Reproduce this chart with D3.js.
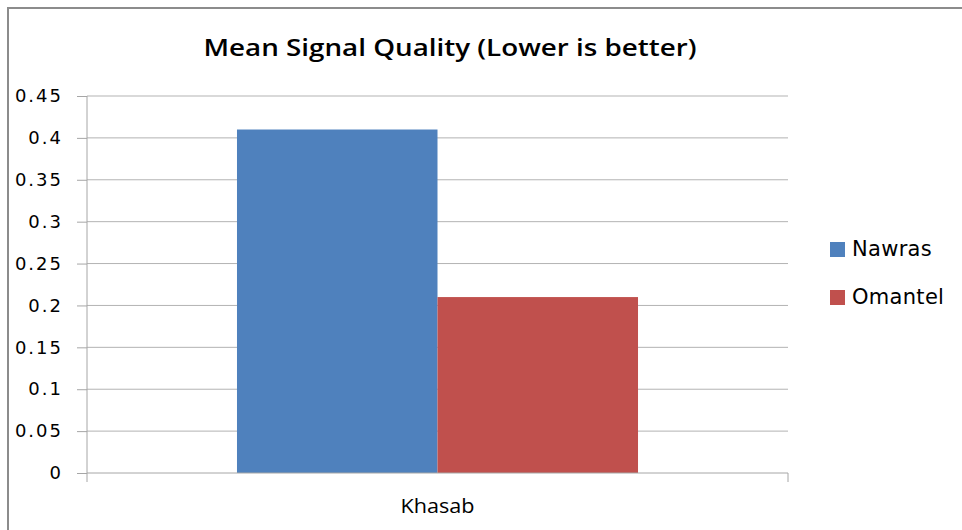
<!DOCTYPE html>
<html lang="en">
<head>
    <meta charset="UTF-8">
    <title>Mean Signal Quality</title>
    <script src="https://d3js.org/d3.v7.min.js"></script>
    <style>
        body { margin: 0; background: #fff; }
        .tick-label { font: 18px "DejaVu Sans", sans-serif; fill: #000; letter-spacing: 2px; }
        .legend-label { font: 21px "DejaVu Sans", sans-serif; fill: #000; letter-spacing: 0.3px; }
        .cat-label { font: 20px "Open Sans", sans-serif; fill: #000; }
        .title { font: 600 24px "Open Sans", sans-serif; fill: #000; }
    </style>
</head>
<body>
    <script>
        // Data
        const categories = ["Khasab"];
        const seriesNames = ["Nawras", "Omantel"];
        const nawras = [0.41];
        const omantel = [0.21];
        const yTicks = [0, 0.05, 0.1, 0.15, 0.2, 0.25, 0.3, 0.35, 0.4, 0.45];
        const colors = ["#4f81bd", "#c0504d"];

        const width = 962, height = 530;
        const plot = { left: 87, right: 788, top: 96, bottom: 473 };

        const svg = d3.select("body")
            .append("svg")
            .attr("width", width)
            .attr("height", height);

        // Chart frame
        svg.append("rect")
            .attr("x", 8).attr("y", 8)
            .attr("width", 970).attr("height", 540)
            .attr("fill", "#fff")
            .attr("stroke", "#8c8c8c")
            .attr("stroke-width", 2);

        // Scales
        const y = d3.scaleLinear().domain([0, 0.45]).range([plot.bottom, plot.top]);
        const x0 = d3.scaleBand().domain(categories)
            .range([plot.left, plot.right])
            .paddingInner(0).paddingOuter(0.374);
        const x1 = d3.scaleBand().domain(seriesNames)
            .range([0, x0.bandwidth()]);

        // Gridlines
        svg.append("g").selectAll("line")
            .data(yTicks.filter(d => d > 0))
            .join("line")
            .attr("x1", plot.left).attr("x2", plot.right)
            .attr("y1", d => y(d)).attr("y2", d => y(d))
            .attr("stroke", "#b3b3b3")
            .attr("stroke-width", 1);

        // Y axis
        const yAxis = svg.append("g")
            .attr("transform", `translate(${plot.left},0)`)
            .call(d3.axisLeft(y).tickValues(yTicks).tickSize(10).tickPadding(14)
                .tickFormat(d => d3.format("")(+d.toFixed(2))));
        yAxis.select(".domain").attr("stroke", "#a6a6a6").attr("d", `M0,${plot.top}V${plot.bottom}`);
        yAxis.selectAll(".tick line").attr("stroke", "#a6a6a6");
        yAxis.selectAll(".tick text").attr("class", "tick-label").attr("font-size", null).attr("font-family", null);

        // Bars
        const rows = categories.map((c, i) => ({ cat: c, values: [nawras[i], omantel[i]] }));
        svg.append("g").selectAll("g")
            .data(rows)
            .join("g")
            .attr("transform", d => `translate(${x0(d.cat)},0)`)
            .selectAll("rect")
            .data(d => d.values.map((v, j) => ({ name: seriesNames[j], value: v, color: colors[j] })))
            .join("rect")
            .attr("x", d => x1(d.name))
            .attr("y", d => y(d.value))
            .attr("width", x1.bandwidth())
            .attr("height", d => y(0) - y(d.value))
            .attr("fill", d => d.color);

        // X axis
        const xAxis = svg.append("g")
            .attr("transform", `translate(0,${plot.bottom})`);
        xAxis.append("line")
            .attr("x1", plot.left).attr("x2", plot.right)
            .attr("stroke", "#a6a6a6");
        xAxis.selectAll(".edge")
            .data([plot.left, plot.right])
            .join("line")
            .attr("x1", d => d).attr("x2", d => d)
            .attr("y1", 0).attr("y2", 9)
            .attr("stroke", "#a6a6a6");
        xAxis.selectAll(".cat-label")
            .data(categories)
            .join("text")
            .attr("class", "cat-label")
            .attr("x", d => x0(d) + x0.bandwidth() / 2)
            .attr("y", 40)
            .attr("text-anchor", "middle")
            .attr("textLength", 74)
            .attr("lengthAdjust", "spacingAndGlyphs")
            .text(d => d);

        // Title
        svg.append("text")
            .attr("class", "title")
            .attr("x", 450)
            .attr("y", 56)
            .attr("text-anchor", "middle")
            .attr("textLength", 493)
            .attr("lengthAdjust", "spacingAndGlyphs")
            .text("Mean Signal Quality (Lower is better)");

        // Legend
        const legend = svg.append("g").attr("transform", "translate(830,242)");
        const item = legend.selectAll("g")
            .data(seriesNames)
            .join("g")
            .attr("transform", (d, i) => `translate(0,${i * 48})`);
        item.append("rect")
            .attr("width", 15).attr("height", 15)
            .attr("fill", (d, i) => colors[i]);
        item.append("text")
            .attr("class", "legend-label")
            .attr("x", 22)
            .attr("y", 14)
            .text(d => d);
    </script>
</body>
</html>
